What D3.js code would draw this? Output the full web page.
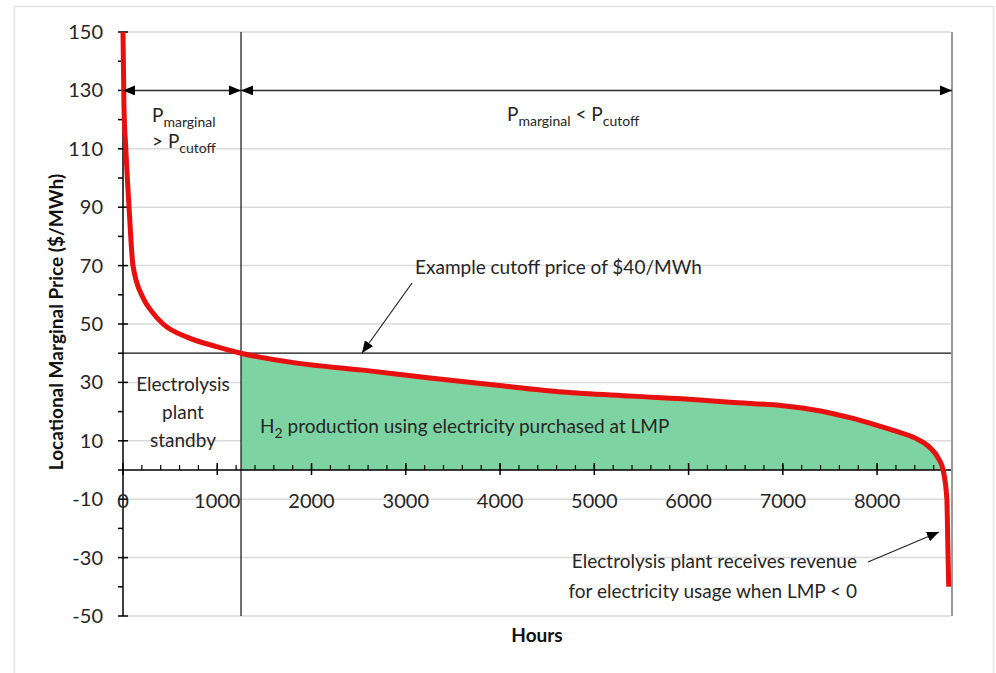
<!DOCTYPE html>
<html>
  <head>
    <meta charset="utf-8">
    <style>
      body { margin: 0; background: #fff; }
      svg { display: block; font-family: Lato, 'Open Sans', sans-serif; }
      .grid line { stroke: #d9d9d9; stroke-width: 1.5; }
      .lbl { font-size: 19px; fill: #262626; }
      .tick { font-size: 20px; fill: #262626; }
    </style>
  </head>
  <body>
    <div id="container"></div>
    <script src="https://d3js.org/d3.v7.min.js"></script>
    <script>

    // price duration curve
    var hours  = [0, 10, 30, 64, 106, 212, 300, 425, 680, 1000, 1252, 1846, 2546, 3257, 3968, 4668, 5400, 6122, 6440, 7000, 7400, 7700, 8000, 8200, 8400, 8550, 8650, 8700, 8740, 8750, 8760];
    var prices = [150, 125, 110, 90, 70, 59, 54.5, 50, 45.5, 42.2, 40, 36.6, 34.2, 31.5, 29, 26.7, 25.3, 24, 23.2, 22, 20.2, 18, 15.3, 13.3, 11, 8, 4, 0, -10, -25, -40];

    var yTicks = [150, 130, 110, 90, 70, 50, 30, 10, -10, -30, -50];
    var xTicks = [0, 1000, 2000, 3000, 4000, 5000, 6000, 7000, 8000];
    var cutoffPrice = 40;
    var cutoffHour = 1252;

    var width = 996, height = 673;
    var margin = {top: 32, right: 45, bottom: 57, left: 123};

    var svg = d3.select("#container").append("svg")
        .attr("width", width)
        .attr("height", height);

    // arrow head
    var defs = svg.append("defs");
    defs.append("marker")
        .attr("id", "head")
        .attr("viewBox", "0 0 12 10")
        .attr("refX", 12).attr("refY", 5)
        .attr("markerWidth", 12).attr("markerHeight", 10)
        .attr("markerUnits", "userSpaceOnUse")
        .attr("orient", "auto-start-reverse")
      .append("path")
        .attr("d", "M0,0L12,5L0,10Z")
        .attr("fill", "#000");

    // outer frame
    svg.append("rect")
        .attr("x", 14.5).attr("y", 6.5)
        .attr("width", 979).attr("height", 670)
        .attr("fill", "none")
        .attr("stroke", "#e3e3e3")
        .attr("stroke-width", 1.5);

    var x = d3.scaleLinear().domain([0, 8784]).range([margin.left, width - margin.right]);
    var y = d3.scaleLinear().domain([-50, 150]).range([height - margin.bottom, margin.top]);

    var pts = hours.map(function(h, i) { return {h: h, p: prices[i]}; });

    // gridlines
    svg.append("g").attr("class", "grid")
      .selectAll("line")
      .data(yTicks)
      .enter().append("line")
        .attr("x1", x(0)).attr("x2", x(8784))
        .attr("y1", function(d) { return y(d); })
        .attr("y2", function(d) { return y(d); });

    // green area: hours past cutoff, price above zero
    var areaPts = pts.filter(function(d) { return d.h >= cutoffHour && d.p >= 0; });
    svg.append("path")
        .datum(areaPts)
        .attr("fill", "#7dd4a2")
        .attr("d", d3.area()
          .curve(d3.curveMonotoneX)
          .x(function(d) { return x(d.h); })
          .y0(y(0))
          .y1(function(d) { return y(d.p); }));

    // cutoff lines
    svg.append("line")
        .attr("x1", x(0)).attr("x2", x(8784))
        .attr("y1", y(cutoffPrice)).attr("y2", y(cutoffPrice))
        .attr("stroke", "#111").attr("stroke-width", 1.2);
    svg.append("line")
        .attr("x1", x(cutoffHour)).attr("x2", x(cutoffHour))
        .attr("y1", y(150)).attr("y2", y(-50))
        .attr("stroke", "#111").attr("stroke-width", 1.2);

    // right border of plot
    svg.append("line")
        .attr("x1", x(8784) + 1).attr("x2", x(8784) + 1)
        .attr("y1", y(150)).attr("y2", y(-50))
        .attr("stroke", "#777").attr("stroke-width", 1.5);

    // y axis
    var yAxis = svg.append("g");
    yAxis.append("line")
        .attr("x1", x(0)).attr("x2", x(0))
        .attr("y1", y(150)).attr("y2", y(-50))
        .attr("stroke", "#000").attr("stroke-width", 1.5);
    yAxis.selectAll(".major")
      .data(yTicks)
      .enter().append("line")
        .attr("x1", x(0) - 5).attr("x2", x(0) + 5)
        .attr("y1", function(d) { return y(d); })
        .attr("y2", function(d) { return y(d); })
        .attr("stroke", "#000").attr("stroke-width", 1.5);
    yAxis.selectAll(".minor")
      .data(d3.range(-40, 150, 20))
      .enter().append("line")
        .attr("x1", x(0) - 5).attr("x2", x(0))
        .attr("y1", function(d) { return y(d); })
        .attr("y2", function(d) { return y(d); })
        .attr("stroke", "#000").attr("stroke-width", 1.5);
    yAxis.selectAll("text")
      .data(yTicks)
      .enter().append("text")
        .attr("class", "tick")
        .attr("x", 103)
        .attr("y", function(d) { return y(d); })
        .attr("dy", "0.35em")
        .attr("text-anchor", "end")
        .text(function(d) { return d; });

    // x axis at zero
    var xAxis = svg.append("g");
    xAxis.append("line")
        .attr("x1", x(0)).attr("x2", x(8784))
        .attr("y1", y(0)).attr("y2", y(0))
        .attr("stroke", "#000").attr("stroke-width", 1.5);
    xAxis.selectAll(".minor")
      .data(d3.range(200, 8784, 200))
      .enter().append("line")
        .attr("x1", function(d) { return x(d); })
        .attr("x2", function(d) { return x(d); })
        .attr("y1", y(0) - 5).attr("y2", y(0))
        .attr("stroke", "#000").attr("stroke-width", 1.2);
    xAxis.selectAll(".major")
      .data(xTicks)
      .enter().append("line")
        .attr("x1", function(d) { return x(d); })
        .attr("x2", function(d) { return x(d); })
        .attr("y1", y(0) - 7).attr("y2", y(0) + 5)
        .attr("stroke", "#000").attr("stroke-width", 1.5);
    xAxis.selectAll("text")
      .data(xTicks)
      .enter().append("text")
        .attr("class", "tick")
        .attr("x", function(d) { return x(d); })
        .attr("y", 508)
        .attr("text-anchor", "middle")
        .text(function(d) { return d; });

    // price curve
    svg.append("path")
        .datum(pts)
        .attr("fill", "none")
        .attr("stroke", "#e8100f")
        .attr("stroke-width", 5)
        .attr("d", d3.line()
          .curve(d3.curveMonotoneX)
          .x(function(d) { return x(d.h); })
          .y(function(d) { return y(d.p); }));

    // span arrows at 130
    svg.append("line")
        .attr("x1", x(0)).attr("x2", x(cutoffHour))
        .attr("y1", y(130)).attr("y2", y(130))
        .attr("stroke", "#333").attr("stroke-width", 1.5)
        .attr("marker-start", "url(#head)").attr("marker-end", "url(#head)");
    svg.append("line")
        .attr("x1", x(cutoffHour)).attr("x2", x(8784) + 1)
        .attr("y1", y(130)).attr("y2", y(130))
        .attr("stroke", "#333").attr("stroke-width", 1.5)
        .attr("marker-start", "url(#head)").attr("marker-end", "url(#head)");

    // annotation arrows
    svg.append("line")
        .attr("x1", 412).attr("y1", 283).attr("x2", 362).attr("y2", 353)
        .attr("stroke", "#222").attr("stroke-width", 1.2)
        .attr("marker-end", "url(#head)");
    svg.append("line")
        .attr("x1", 868).attr("y1", 562).attr("x2", 939).attr("y2", 532)
        .attr("stroke", "#222").attr("stroke-width", 1.2)
        .attr("marker-end", "url(#head)");

    // P marginal labels
    function pLabel(t, sub) {
      t.append("tspan").text("P");
      t.append("tspan").attr("font-size", "14px").attr("dy", 5).text(sub);
      return t;
    }
    var t1 = svg.append("text").attr("class", "lbl").attr("x", 152).attr("y", 122);
    pLabel(t1, "marginal");
    var t2 = svg.append("text").attr("class", "lbl").attr("x", 152).attr("y", 148);
    t2.append("tspan").text("> ");
    pLabel(t2, "cutoff");
    var t3 = svg.append("text").attr("class", "lbl").attr("x", 507).attr("y", 121);
    pLabel(t3, "marginal");
    t3.append("tspan").attr("dy", -5).text(" < ");
    pLabel(t3, "cutoff");

    svg.append("text").attr("class", "lbl")
        .attr("x", 415).attr("y", 274)
        .text("Example cutoff price of $40/MWh");

    svg.append("g").selectAll("text")
      .data(["Electrolysis", "plant", "standby"])
      .enter().append("text")
        .attr("class", "lbl")
        .attr("x", 183)
        .attr("y", function(d, i) { return 391 + i * 28; })
        .attr("text-anchor", "middle")
        .text(function(d) { return d; });

    var h2 = svg.append("text").attr("class", "lbl").attr("x", 260).attr("y", 433);
    h2.append("tspan").text("H");
    h2.append("tspan").attr("font-size", "14px").attr("dy", 5).text("2");
    h2.append("tspan").attr("dy", -5).text(" production using electricity purchased at LMP");

    svg.append("g").selectAll("text")
      .data(["Electrolysis plant receives revenue", "for electricity usage when LMP < 0"])
      .enter().append("text")
        .attr("class", "lbl")
        .attr("x", 857)
        .attr("y", function(d, i) { return 568 + i * 30; })
        .attr("text-anchor", "end")
        .text(function(d) { return d; });

    // axis titles
    svg.append("text")
        .attr("x", 537).attr("y", 642)
        .attr("text-anchor", "middle")
        .attr("font-size", "19px").attr("font-weight", "bold").attr("fill", "#111")
        .text("Hours");
    svg.append("text")
        .attr("transform", "translate(63," + 322 + ") rotate(-90)")
        .attr("text-anchor", "middle")
        .attr("font-size", "19px").attr("font-weight", "bold").attr("fill", "#111")
        .text("Locational Marginal Price ($/MWh)");

    </script>
  </body>
</html>
